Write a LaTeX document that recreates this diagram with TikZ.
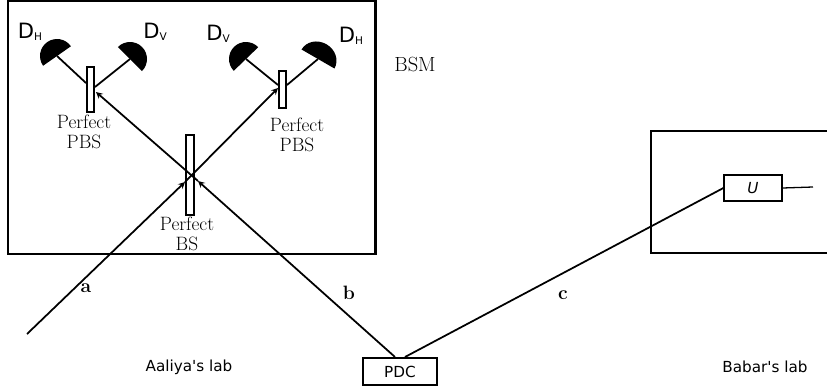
\documentclass[tikz,border=0pt]{standalone}
\usepackage{fontspec}
\newfontfamily\labfont{DejaVu Sans}
\tikzset{
  wall/.style={draw=black,line width=1.9pt,inner sep=0pt},
  plate/.style={draw=black,fill=white,line width=1.3pt,inner sep=0pt},
  beam/.style={black,line width=1.5pt},
  detector/.style={black,line width=0.3pt,line join=round},
  serif label/.style={inner sep=0pt,align=center,font=\fontsize{16.5}{16.5}\selectfont},
  sans label/.style={inner sep=0pt,font=\labfont\fontsize{13}{14}\selectfont},
  det label/.style={inner sep=0pt,font=\labfont\fontsize{18}{20}\selectfont}
}
\newcommand{\detsub}[1]{{\fontsize{9}{10}\selectfont\raisebox{-0.35ex}{#1}}}
\begin{document}
\begin{tikzpicture}[x=0.03cm,y=0.03cm]
\useasboundingbox (0,0) rectangle (827,-390);
% labs
\draw [wall] (8,-1) rectangle (375.5,-254);
\draw [wall] (827,-131) -- (651,-131) -- (651,-253) -- (827,-253);
% plates
\node [plate,minimum width=0.21cm,minimum height=1.35cm] (pbsl) at (90.5,-89.5) {};
\node [plate,minimum width=0.21cm,minimum height=1.12cm] (pbsr) at (282.5,-89.5) {};
% detectors
\coordinate (dhl) at (57,-56);
\coordinate (dvl) at (130,-59);
\coordinate (dvr) at (246,-59);
\coordinate (dhr) at (318,-59);
\fill [detector,shift={(dhl)},rotate=35] (-17,0) arc (180:0:17) -- cycle;
\fill [detector,shift={(dvl)},rotate=-45] (-17,0) arc (180:0:17) -- cycle;
\fill [detector,shift={(dvr)},rotate=44] (-17,0) arc (180:0:17) -- cycle;
\fill [detector,shift={(dhr)},rotate=-30] (-19,0) arc (180:0:19 and 17) -- cycle;
\draw [beam] (dhl) -- (86,-83);
\draw [beam] (dvl) -- (95,-87);
\draw [beam] (dvr) -- (278,-85);
\draw [beam] (dhr) -- (287,-85);
\node [det label] (dhltext) at (30,-32) {D\detsub{H}};
\node [det label] (dvltext) at (155,-32) {D\detsub{V}};
\node [det label] (dvrtext) at (218,-34) {D\detsub{V}};
\node [det label] (dhrtext) at (351,-36) {D\detsub{H}};
% boxes
\node [plate,minimum width=0.24cm,minimum height=2.4cm] (bs) at (190,-175) {};
\node [wall,line width=1.6pt,minimum width=2.2cm,minimum height=0.8cm,font=\labfont\fontsize{13}{14}\selectfont] (pdc) at (400,-371.5) {PDC};
\node [wall,line width=1.6pt,minimum width=1.72cm,minimum height=0.77cm,font=\labfont\itshape\fontsize{13}{14}\selectfont] (uni) at (753,-188) {U};
% beams
\coordinate (aend) at (27,-334);
\coordinate (ain) at (185,-182);
\coordinate (bin) at (198,-181);
\coordinate (cout) at (813,-187);
\draw [beam,-stealth] (aend) -- (ain);
\draw [beam,-stealth] (ain) -- (278,-88);
\draw [beam,-stealth] (395,-357) -- (bin);
\draw [beam,-stealth] (bin) -- (96,-92);
\draw [beam] (405,-357) -- (uni.west);
\draw [beam,line width=1.1pt] (uni.east) -- (cout);
% labels
\node [serif label] (pbsltext) at (84,-132) {Perfect\\PBS};
\node [serif label] (pbsrtext) at (297,-135) {Perfect\\PBS};
\node [serif label] (bstext) at (187,-234) {Perfect\\BS};
\node [serif label,font=\fontsize{17.5}{18}\selectfont] (bsm) at (415,-64) {BSM};
\node [serif label] (atext) at (86,-288) {\textbf{a}};
\node [serif label] (btext) at (349,-293) {\textbf{b}};
\node [serif label] (ctext) at (563,-295) {\textbf{c}};
\node [sans label] (aaliya) at (189,-367) {Aaliya's lab};
\node [sans label] (babar) at (765,-367) {Babar's lab};
\end{tikzpicture}
\end{document}
